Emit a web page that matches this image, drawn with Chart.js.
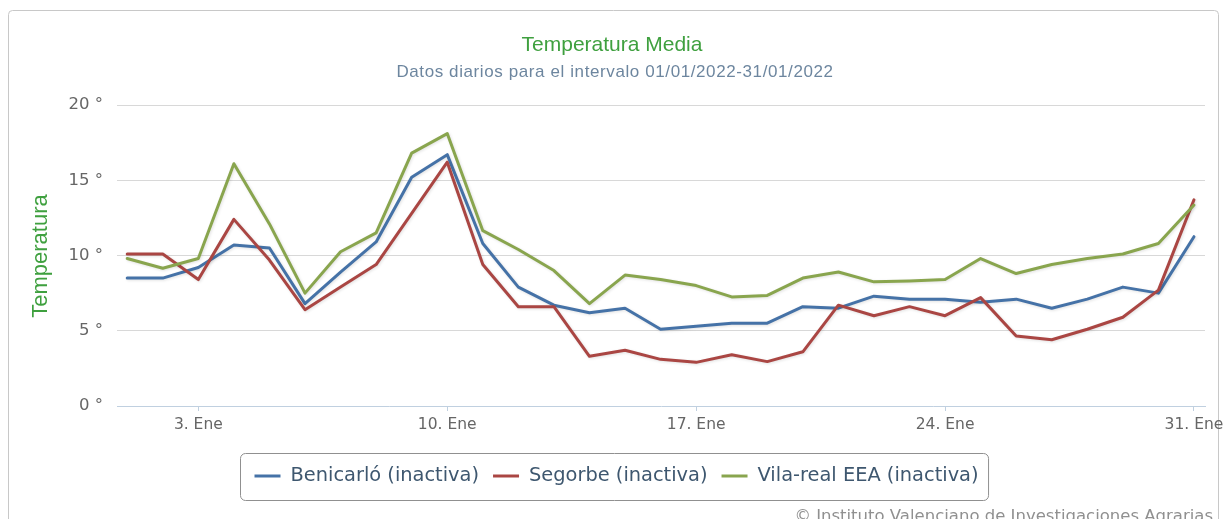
<!DOCTYPE html>
<html><head><meta charset="utf-8">
<script src="https://cdn.jsdelivr.net/npm/chart.js@4.4.1/dist/chart.umd.min.js"></script>
<style>html,body{margin:0;padding:0;background:#fff;overflow:hidden}#wrap{width:1224px;height:519px;position:relative}</style>
</head><body><div id="wrap"><canvas id="c" width="1224" height="519"></canvas></div>
<script>
const days = [1,2,3,4,5,6,7,8,9,10,11,12,13,14,15,16,17,18,19,20,21,22,23,24,25,26,27,28,29,30,31];
const benicarlo = [8.5,8.5,9.2,10.7,10.5,6.8,8.9,10.9,15.2,16.7,10.8,7.9,6.7,6.2,6.5,5.1,5.3,5.5,5.5,6.6,6.5,7.3,7.1,7.1,6.9,7.1,6.5,7.1,7.9,7.5,11.25];
const segorbe = [10.1,10.1,8.4,12.4,9.7,6.4,7.9,9.4,12.8,16.2,9.4,6.6,6.6,3.3,3.7,3.1,2.9,3.4,2.95,3.6,6.7,6.0,6.6,6.0,7.2,4.65,4.4,5.1,5.9,7.7,13.7];
const vilareal = [9.8,9.15,9.8,16.1,12.1,7.5,10.25,11.5,16.8,18.1,11.65,10.4,9.0,6.8,8.7,8.4,8.0,7.25,7.35,8.5,8.9,8.25,8.3,8.4,9.8,8.8,9.4,9.8,10.1,10.8,13.35];
const seriesNames = ["Benicarló (inactiva)","Segorbe (inactiva)","Vila-real EEA (inactiva)"];
const seriesColors = ["#4572A7","#AA4643","#89A54E"];
const tickDays = [3,10,17,24,31];
const tickLabels = ["3. Ene","10. Ene","17. Ene","24. Ene","31. Ene"];
const yTicks = [0,5,10,15,20];
const titleText = "Temperatura Media";
const subtitleText = "Datos diarios para el intervalo 01/01/2022-31/01/2022";
const yAxisTitle = "Temperatura";
const creditsText = "© Instituto Valenciano de Investigaciones Agrarias";

const toPts = arr => days.map((d,i)=>({x:d,y:arr[i]}));
const seriesData = [benicarlo, segorbe, vilareal];

const decor = {
  id:'decor',
  beforeDraw(chart){
    const ctx = chart.ctx;
    ctx.save();
    ctx.fillStyle='#fff';
    ctx.fillRect(0,0,chart.width,chart.height);
    ctx.strokeStyle='#C8C8C8';
    ctx.lineWidth=1;
    ctx.beginPath();
    ctx.roundRect(8.5,10.5,1210,540,4);
    ctx.stroke();
    ctx.restore();
  },
  beforeDatasetDraw(chart){
    const ctx=chart.ctx;
    ctx.save();
    ctx.shadowColor='rgba(0,0,0,0.12)';
    ctx.shadowOffsetX=1; ctx.shadowOffsetY=1; ctx.shadowBlur=3;
  },
  afterDatasetDraw(chart){ chart.ctx.restore(); },
  afterDraw(chart){
    const ctx = chart.ctx;
    ctx.save();
    ctx.textAlign='center'; ctx.textBaseline='middle';
    ctx.fillStyle='#3FA03F';
    ctx.font='21px "Liberation Sans", Arial, sans-serif';
    ctx.fillText(titleText, 612, 45);
    ctx.fillStyle='#6D869F';
    ctx.font='17px "Liberation Sans", Arial, sans-serif';
    ctx.letterSpacing='0.6px';
    ctx.fillText(subtitleText, 615, 72);
    ctx.letterSpacing='0px';
    ctx.save();
    ctx.translate(41, 256);
    ctx.rotate(-Math.PI/2);
    ctx.fillStyle='#3FA03F';
    ctx.font='22px "Liberation Sans", Arial, sans-serif';
    ctx.fillText(yAxisTitle, 0, 0);
    ctx.restore();
    ctx.font='19.4px "DejaVu Sans", sans-serif';
    const symW=26, gapT=10, gapI=14, padL=14, padR=10;
    const widths = seriesNames.map(n=>ctx.measureText(n).width);
    let total = padL+padR; widths.forEach((w,i)=>{ total += symW+gapT+w + (i? gapI:0); });
    const bx = Math.round(614.5 - total/2)+0.5, by=453.5, bh=47;
    ctx.strokeStyle='#909090'; ctx.lineWidth=1;
    ctx.beginPath(); ctx.roundRect(bx,by,total,bh,5); ctx.stroke();
    let x = bx+padL; const cy=476;
    chart.data.datasets.forEach((ds,i)=>{
      ctx.strokeStyle=ds.borderColor; ctx.lineWidth=3;
      ctx.beginPath(); ctx.moveTo(x,cy); ctx.lineTo(x+symW,cy); ctx.stroke();
      ctx.fillStyle='#3E576F'; ctx.textAlign='left'; ctx.textBaseline='middle';
      ctx.fillText(ds.label, x+symW+gapT, cy);
      x += symW+gapT+widths[i]+gapI;
    });
    ctx.textAlign='right'; ctx.textBaseline='alphabetic';
    ctx.fillStyle='#909090';
    ctx.font='16.5px "DejaVu Sans", sans-serif';
    ctx.fillText(creditsText, 1213, 521);
    ctx.restore();
  }
};

new Chart(document.getElementById('c'), {
  type:'line',
  data:{ datasets: seriesData.map((arr,i)=>({
    label: seriesNames[i], data: toPts(arr), borderColor: seriesColors[i], backgroundColor: seriesColors[i],
    borderWidth:3, pointRadius:0, tension:0, borderJoinStyle:'round', borderCapStyle:'round', order: 2-i, fill:false
  }))},
  options:{
    responsive:false, animation:false, devicePixelRatio:1,
    layout:{ padding:{left:0, right:19, top:105, bottom:0} },
    plugins:{ legend:{display:false}, title:{display:false}, tooltip:{enabled:false} },
    scales:{
      x:{ type:'linear', min:0.713, max:31.31,
        afterBuildTicks: s => { s.ticks = tickDays.map(v=>({value:v})); },
        afterFit: s => { s.height = 113; s.paddingLeft = 0; s.paddingRight = 0; },
        ticks:{ autoSkip:false, maxRotation:0, padding:5, color:'#666',
          font:{family:'"DejaVu Sans", sans-serif', size:15.5},
          callback: v => tickLabels[tickDays.indexOf(v)] },
        grid:{ drawOnChartArea:false, drawTicks:true, tickLength:5, tickColor:'#C0D0E0', color:'#C0D0E0' },
        border:{ display:true, color:'#C0D0E0', width:1 }
      },
      y:{ min:0, max:20,
        afterBuildTicks: s => { s.ticks = yTicks.map(v=>({value:v})); },
        afterFit: s => { s.width = 117; s.paddingTop = 0; s.paddingBottom = 0; },
        ticks:{ padding:14, color:'#666', font:{family:'"DejaVu Sans", sans-serif', size:16.5},
          callback: v => v + ' °' },
        grid:{ drawTicks:false, lineWidth:1, color: c => c.tick && c.tick.value===0 ? 'rgba(0,0,0,0)' : '#D8D8D8' },
        border:{ display:false }
      }
    }
  },
  plugins:[decor]
});
</script></body></html>
